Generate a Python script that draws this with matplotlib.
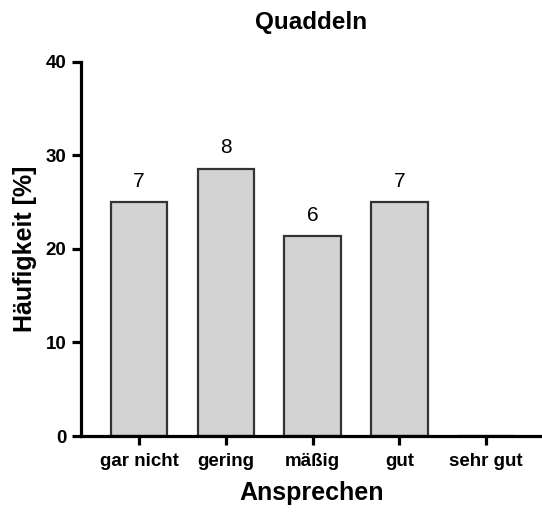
import matplotlib.pyplot as plt

plt.rcParams['font.family'] = ['Liberation Sans', 'DejaVu Sans']

# Data
categories = ['gar nicht', 'gering', 'mäßig', 'gut', 'sehr gut']
counts = [7, 8, 6, 7, 0]
percent = [25.0, 28.6, 21.4, 25.0, 0.0]

fig = plt.figure(figsize=(5.42, 5.16), dpi=100)
ax = fig.add_axes([0.1494, 0.155, 0.8506, 0.725])

x = range(len(categories))
bars = ax.bar(x, percent, width=0.65, color='#d3d3d3', edgecolor='#333333', linewidth=1.6)

# count labels above the bars (skip empty ones)
for xi, p, c in zip(x, percent, counts):
    if c > 0:
        ax.annotate(str(c), (xi, p), xytext=(0, 11), textcoords='offset points',
                    ha='center', va='baseline', fontsize=15)

ax.set_xlim(-0.67, 4.645)
ax.set_ylim(0, 40)
ax.set_yticks([0, 10, 20, 30, 40])
ax.set_xticks(list(x))
ax.set_xticklabels(categories)

for side in ['top', 'right']:
    ax.spines[side].set_visible(False)
for side in ['left', 'bottom']:
    ax.spines[side].set_linewidth(2.3)

ax.tick_params(axis='both', direction='out', length=6.5, width=2.3, labelsize=13.5)
ax.tick_params(axis='x', pad=6)
ax.tick_params(axis='y', pad=4)
for lab in ax.get_xticklabels() + ax.get_yticklabels():
    lab.set_fontweight('bold')

ax.set_title('Quaddeln', fontsize=17.5, fontweight='bold', pad=24)
ax.set_xlabel('Ansprechen', fontsize=18, fontweight='bold', labelpad=8)
ax.set_ylabel('Häufigkeit [%]', fontsize=18, fontweight='bold', labelpad=6)

fig.savefig('out.png', dpi=100)
